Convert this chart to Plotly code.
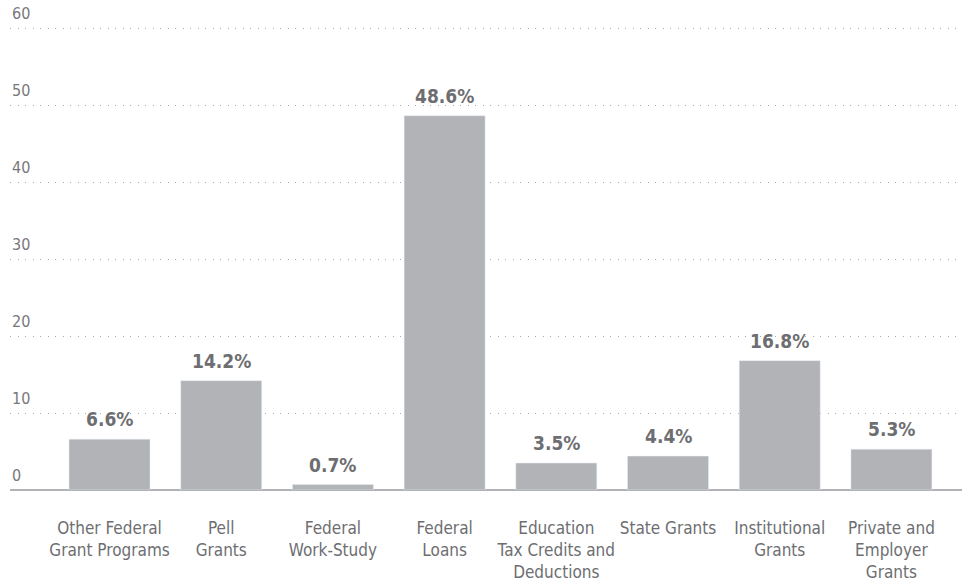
import plotly.graph_objects as go

categories = [
    "Other Federal<br>Grant Programs",
    "Pell<br>Grants",
    "Federal<br>Work-Study",
    "Federal<br>Loans",
    "Education<br>Tax Credits and<br>Deductions",
    "State Grants",
    "Institutional<br>Grants",
    "Private and<br>Employer<br>Grants",
]
values = [6.6, 14.2, 0.7, 48.6, 3.5, 4.4, 16.8, 5.3]
y_ticks = [0, 10, 20, 30, 40, 50, 60]

FONT = "Liberation Sans Narrow, DejaVu Sans Condensed, Roboto, sans-serif"
TEXT = "#6d6e71"

fig = go.Figure()
fig.add_trace(go.Bar(
    x=categories, y=values, marker_color="#b1b3b6", width=0.725,
    hoverinfo="x+y",
))

for c, v in zip(categories, values):
    fig.add_annotation(
        x=c, y=v, text=f"<b>{v:.1f}%</b>", showarrow=False,
        yanchor="bottom", yshift=7,
        font=dict(family=FONT, size=19, color=TEXT),
    )

for t in y_ticks:
    fig.add_annotation(
        x=0, xref="paper", xanchor="left", y=t, yanchor="bottom", yshift=3,
        text=str(t), showarrow=False,
        font=dict(family=FONT, size=16, color="#77787b"),
    )

fig.update_layout(
    width=965, height=588,
    margin=dict(l=10, r=3, t=25, b=98, autoexpand=False),
    plot_bgcolor="white", paper_bgcolor="white",
    showlegend=False,
    font=dict(family=FONT, color=TEXT),
)
fig.update_xaxes(
    range=[-0.891, 7.632], showgrid=False, showline=False, zeroline=False,
    ticks="", tickfont=dict(size=17, color=TEXT), ticklabelstandoff=26,
    automargin=False,
)
fig.update_yaxes(
    range=[0, 60.39], tickvals=y_ticks, showgrid=True, gridcolor="#a7a9ac",
    griddash="1px,6.5px", gridwidth=1,
    zeroline=True, zerolinecolor="#b1b3b6", zerolinewidth=2,
    showticklabels=False, showline=False, ticks="", automargin=False,
)
fig.write_html(
    "out.html",
    config={"displayModeBar": False},
    post_script="document.body.style.margin='0';document.body.style.overflow='hidden';",
)
